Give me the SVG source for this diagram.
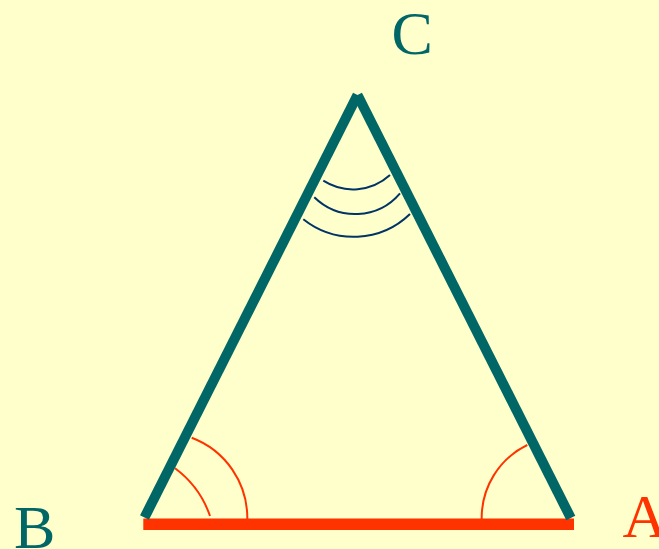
<svg xmlns="http://www.w3.org/2000/svg" width="659" height="549" viewBox="0 0 659 549">
<style>
.lbl{font-family:"Liberation Serif","Times New Roman",serif;font-size:62px}
.teal{fill:#006666}
.red{fill:#FF3300}
.side{stroke:#006666;stroke-width:10;stroke-linecap:butt;fill:none}
.arcC{stroke:#003366;stroke-width:2;fill:none}
.arcR{stroke:#FF3300;stroke-width:2;fill:none}
</style>
<rect x="0" y="0" width="659" height="549" fill="#FFFFCC"/>
<g id="angle-arcs">
<path class="arcC" d="M323.3,180.7 A55,55 0 0 0 390,175"/>
<path class="arcC" d="M314.3,197.3 A58.6,58.6 0 0 0 400,193.3"/>
<path class="arcC" d="M303.3,219.3 A81,81 0 0 0 410,214"/>
<path class="arcR" d="M191.7,437.7 A85.8,85.8 0 0 1 247.3,519"/>
<path class="arcR" d="M175,468.3 A100,100 0 0 1 210,516"/>
<path class="arcR" d="M527.3,445 A81,81 0 0 0 481.7,519"/>
</g>
<g id="base">
<line x1="143.3" y1="524.2" x2="574" y2="524.2" stroke="#FF3300" stroke-width="11.6"/>
</g>
<g id="sides">
<line class="side" x1="144.5" y1="517.5" x2="357.5" y2="95"/>
<line class="side" x1="570.8" y1="518" x2="357.5" y2="95"/>
</g>
<g id="label-C"><text class="lbl teal" x="391.5" y="54">C</text></g>
<g id="label-B"><text class="lbl teal" x="14" y="548">B</text></g>
<g id="label-A"><text class="lbl red" x="622.5" y="537">A</text></g>
</svg>
